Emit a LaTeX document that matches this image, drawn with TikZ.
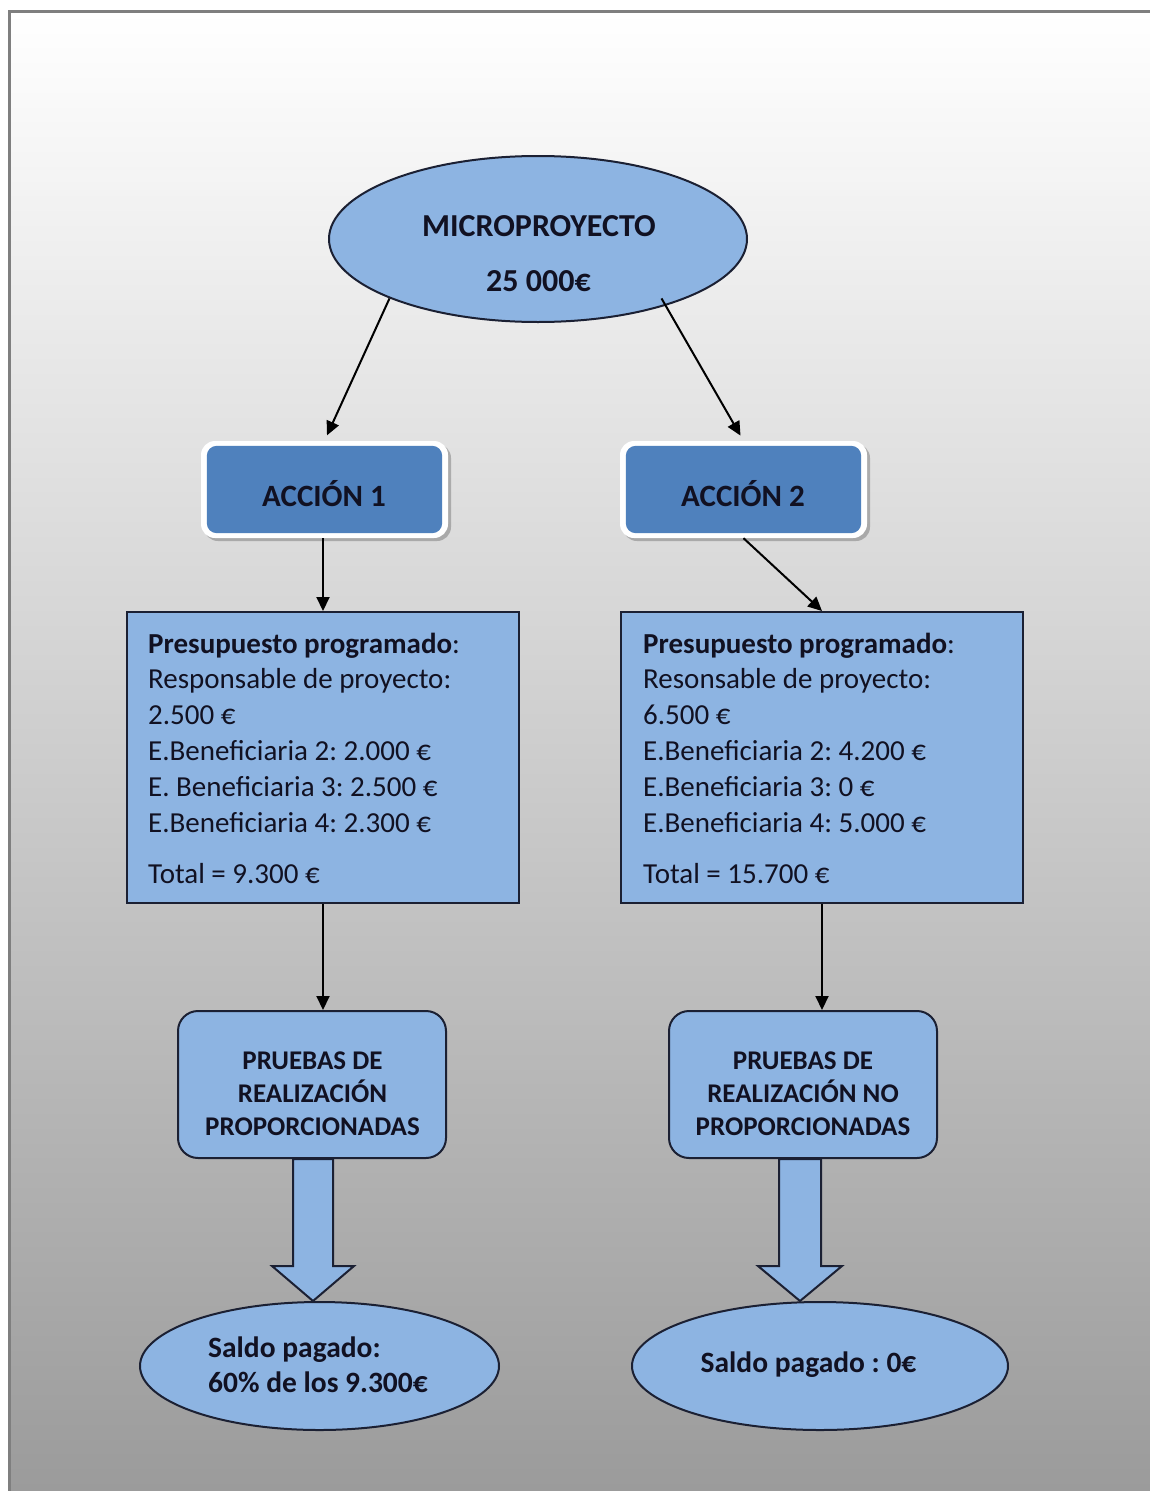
\documentclass[tikz,border=0pt]{standalone}
\usepackage{fontspec}
\setmainfont{Carlito}
\usetikzlibrary{shapes.geometric,arrows.meta,shadows,calc}
\definecolor{lightfill}{HTML}{8DB4E2}
\definecolor{accfill}{HTML}{4F81BD}
\definecolor{ink}{HTML}{111122}
\definecolor{edgecol}{HTML}{1B2033}
\definecolor{framegray}{HTML}{7F7F7F}
\definecolor{bggray}{RGB}{155,155,155}
\frenchspacing
\begin{document}
\begin{tikzpicture}[x=1pt,y=-1pt,
  shapeline/.style={draw=edgecol, line width=2pt, fill=lightfill},
  arr/.style={draw=black, line width=2pt, -{Triangle[length=14pt,width=13pt]}},
  budget/.style={shapeline, rectangle, inner sep=0pt},
  budtext/.style={anchor=base west, inner sep=0pt, font=\fontsize{29}{35.8}\selectfont, text=ink},
  accouter/.style={rectangle, rounded corners=14pt, fill=white, inner sep=0pt, minimum width=247pt, minimum height=97pt, drop shadow={shadow xshift=3pt, shadow yshift=-3pt, opacity=0.35, fill=black!70}},
  acctext/.style={anchor=base, inner sep=0pt, font=\bfseries\fontsize{31}{37}\selectfont, text=ink},
  prbox/.style={shapeline, rectangle, rounded corners=20pt, inner sep=0pt, minimum width=268pt, minimum height=147pt},
  prtext/.style={anchor=base, inner sep=0pt, font=\bfseries\fontsize{27}{33}\selectfont, text=ink},
  ovalshape/.style={shapeline, ellipse, inner sep=0pt},
  ovaltext/.style={inner sep=0pt, font=\bfseries\fontsize{29.5}{35}\selectfont, text=ink},
  blockarrow/.style={draw=edgecol, line width=2pt, fill=lightfill, line join=miter}
]
\useasboundingbox (0,0) rectangle (1150,1491);
\fill[white] (0,0) rectangle (1150,1491);
\shade[top color=white, bottom color=bggray] (9,11) rectangle (1150,1491);
\draw[framegray, line width=3pt] (9,1491) -- (9,11) -- (1150,11);

% top ellipse
\node[ovalshape, minimum width=418pt, minimum height=166pt] (micro) at (538,239) {};
\node[anchor=base, inner sep=0pt, font=\bfseries\fontsize{32}{38}\selectfont, text=ink] (microt1) at (539,236) {MICROPROYECTO};
\node[anchor=base, inner sep=0pt, font=\bfseries\fontsize{32}{38}\selectfont, text=ink] (microt2) at (538.5,291) {25 000€};

% accion boxes
\node[accouter] (acc1) at (324.5,489.5) {};
\fill[accfill, rounded corners=10pt] ([shift={(6,5)}]acc1.north west) rectangle ([shift={(-6,-5)}]acc1.south east);
\node[acctext] (acc1t) at (324,506) {ACCIÓN 1};
\node[accouter] (acc2) at (743.5,489.5) {};
\fill[accfill, rounded corners=10pt] ([shift={(6,5)}]acc2.north west) rectangle ([shift={(-6,-5)}]acc2.south east);
\node[acctext] (acc2t) at (743,506) {ACCIÓN 2};

% budget boxes
\node[budget, minimum width=392pt, minimum height=291pt] (box1) at (323,757.5) {};
\node[budtext] (box1t) at (148,653) {\vtop{\hbox{\textbf{Presupuesto programado}:}
\hbox{Responsable de proyecto:}
\hbox{2.500 €}
\hbox{E.Beneficiaria 2: 2.000 €}
\hbox{E. Beneficiaria 3: 2.500 €}
\hbox{E.Beneficiaria 4: 2.300 €}
\vskip16pt
\hbox{Total = 9.300 €}}};
\node[budget, minimum width=402pt, minimum height=291pt] (box2) at (822,757.5) {};
\node[budtext] (box2t) at (643,653) {\vtop{\hbox{\textbf{Presupuesto programado}:}
\hbox{Resonsable de proyecto:}
\hbox{6.500 €}
\hbox{E.Beneficiaria 2: 4.200 €}
\hbox{E.Beneficiaria 3: 0 €}
\hbox{E.Beneficiaria 4: 5.000 €}
\vskip16pt
\hbox{Total = 15.700 €}}};

% pruebas boxes
\node[prbox] (pr1) at (312,1084.5) {};
\node[prtext] (pr1t) at (312.5,1069) {\vtop{\halign{\hfil#\hfil\cr PRUEBAS DE\cr REALIZACIÓN\cr PROPORCIONADAS\cr}}};
\node[prbox] (pr2) at (803,1084.5) {};
\node[prtext] (pr2t) at (803,1069) {\vtop{\halign{\hfil#\hfil\cr PRUEBAS DE\cr REALIZACIÓN NO\cr PROPORCIONADAS\cr}}};

% result ellipses
\node[ovalshape, minimum width=359pt, minimum height=128pt] (sal1) at (319.5,1366) {};
\node[ovaltext, anchor=base west] (sal1t) at (208,1357) {\vtop{\hbox{Saldo pagado:}\hbox{60\% de los 9.300€}}};
\node[ovalshape, minimum width=376pt, minimum height=128pt] (sal2) at (820,1366) {};
\node[ovaltext, anchor=base] (sal2t) at (808.5,1372) {Saldo pagado : 0€};

% connectors
\draw[arr, shorten >=6pt] (micro.south west) -- (acc1.north);
\draw[arr, shorten >=6pt] ($(micro.south east)+(-25,0)$) -- (acc2.north);
\draw[arr] (acc1.south -| box1.north) -- (box1.north);
\draw[arr] (acc2.south) -- (box2.north);
\draw[arr] (box1.south) -- (box1.south |- pr1.north);
\draw[arr] (box2.south) -- (box2.south |- pr2.north);

% block arrows
\draw[blockarrow] ($(pr1.south)+(1,0)$) ++(-20,0) -- ++(0,107) -- ++(-21,0) -- ++(41,35) -- ++(41,-35) -- ++(-21,0) -- ++(0,-107) -- cycle;
\draw[blockarrow] ($(pr2.south)+(-3,0)$) ++(-21,0) -- ++(0,107) -- ++(-21,0) -- ++(42,35) -- ++(42,-35) -- ++(-21,0) -- ++(0,-107) -- cycle;
\end{tikzpicture}
\end{document}
